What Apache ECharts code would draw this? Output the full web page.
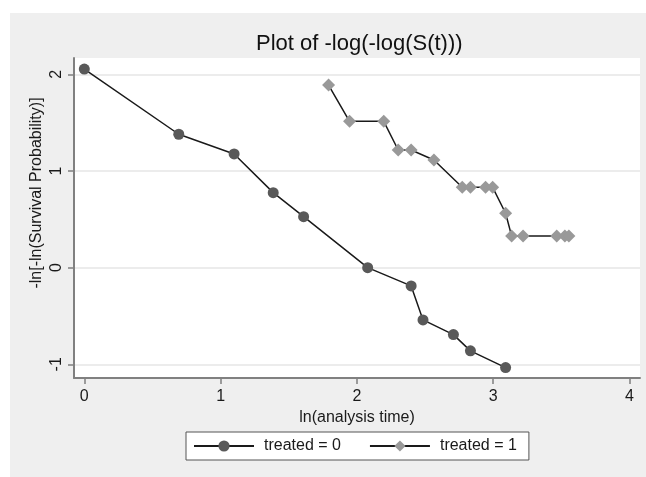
<!DOCTYPE html>
<html>
<head>
<meta charset="utf-8">
<script src="https://cdn.jsdelivr.net/npm/echarts@6/dist/echarts.min.js"></script>
<style>
  html, body { margin: 0; padding: 0; background: #ffffff; }
  #chart { width: 646px; height: 477px; }
</style>
</head>
<body>
<div id="chart"></div>
<script>
// ---- data ----
const titleText = 'Plot of -log(-log(S(t)))';
const xName = 'ln(analysis time)';
const yName = '-ln[-ln(Survival Probability)]';
const legendNames = ['treated = 0', 'treated = 1'];
const xTicks = [0, 1, 2, 3, 4];
const yTicks = [-1, 0, 1, 2];

const x0 = [0, 0.693, 1.099, 1.386, 1.609, 2.079, 2.398, 2.485, 2.708, 2.833, 3.091];
const y0 = [2.055, 1.380, 1.176, 0.776, 0.527, 0.0, -0.189, -0.541, -0.693, -0.861, -1.034];

const x1 = [1.792, 1.946, 2.197, 2.303, 2.398, 2.565, 2.773, 2.833, 2.944, 2.996, 3.091, 3.135, 3.219, 3.466, 3.526, 3.555];
const y1 = [1.889, 1.514, 1.514, 1.217, 1.217, 1.114, 0.831, 0.831, 0.831, 0.831, 0.563, 0.328, 0.328, 0.328, 0.328, 0.328];

const pairs = (xs, ys) => xs.map((x, i) => [x, ys[i]]);

const FONT = '"Liberation Sans", Arial, sans-serif';
const chart = echarts.init(document.getElementById('chart'), null, { renderer: 'canvas' });

chart.setOption({
  backgroundColor: '#ffffff',
  animation: false,
  textStyle: { fontFamily: FONT },
  graphic: [
    { type: 'rect', z: -10, silent: true,
      shape: { x: 10, y: 13, width: 636, height: 464 },
      style: { fill: '#efefef' } },
    { type: 'text', z: 10, silent: true,
      x: 37, y: 193, rotation: Math.PI / 2,
      style: { text: yName, fill: '#1a1a1a', font: '16px ' + FONT,
               align: 'center', verticalAlign: 'middle' } }
  ],
  title: {
    text: titleText,
    left: 251, top: 28,
    textStyle: { fontFamily: FONT, fontSize: 22, fontWeight: 'normal', color: '#111' }
  },
  grid: {
    left: 74, right: 6, top: 58, bottom: 99,
    show: true, backgroundColor: '#ffffff', borderWidth: 0
  },
  legend: {
    left: 186, top: 432,
    padding: [6, 12, 6, 7],
    itemGap: 28,
    itemWidth: 60, itemHeight: 14,
    backgroundColor: '#ffffff',
    borderColor: '#555', borderWidth: 1,
    borderRadius: 0,
    textStyle: { fontFamily: FONT, fontSize: 16, color: '#1a1a1a', padding: [0, 0, 0, 5] },
    data: legendNames
  },
  xAxis: {
    type: 'value',
    min: -0.0756, max: 4.077,
    name: xName, nameLocation: 'middle', nameGap: 29,
    nameTextStyle: { fontFamily: FONT, fontSize: 16, color: '#1a1a1a' },
    axisLine: { show: true, onZero: false, lineStyle: { color: '#808080', width: 2 } },
    axisTick: { show: true, customValues: xTicks, length: 6, lineStyle: { color: '#808080', width: 1.5 } },
    axisLabel: { customValues: xTicks, margin: 11, fontFamily: FONT, fontSize: 16, color: '#1a1a1a' },
    splitLine: { show: false }
  },
  yAxis: {
    type: 'value',
    min: -1.142, max: 2.169,
    axisLine: { show: true, onZero: false, lineStyle: { color: '#808080', width: 2 } },
    axisTick: { show: true, customValues: yTicks, length: 6, lineStyle: { color: '#808080', width: 1.5 } },
    axisLabel: { customValues: yTicks, rotate: 90, margin: 9, fontFamily: FONT, fontSize: 16, color: '#1a1a1a' },
    splitLine: { show: true, lineStyle: { color: '#e6e6e6', width: 1.5 } }
  },
  series: [
    {
      name: legendNames[0], type: 'line',
      data: pairs(x0, y0),
      symbol: 'circle', symbolSize: 11, showAllSymbol: true,
      lineStyle: { color: '#1a1a1a', width: 1.5 },
      itemStyle: { color: '#595959' },
      z: 3
    },
    {
      name: legendNames[1], type: 'line',
      data: pairs(x1, y1),
      symbol: 'diamond', symbolSize: 13, showAllSymbol: true,
      lineStyle: { color: '#1a1a1a', width: 1.5 },
      itemStyle: { color: '#999999' },
      z: 3
    }
  ]
});
</script>
</body>
</html>
